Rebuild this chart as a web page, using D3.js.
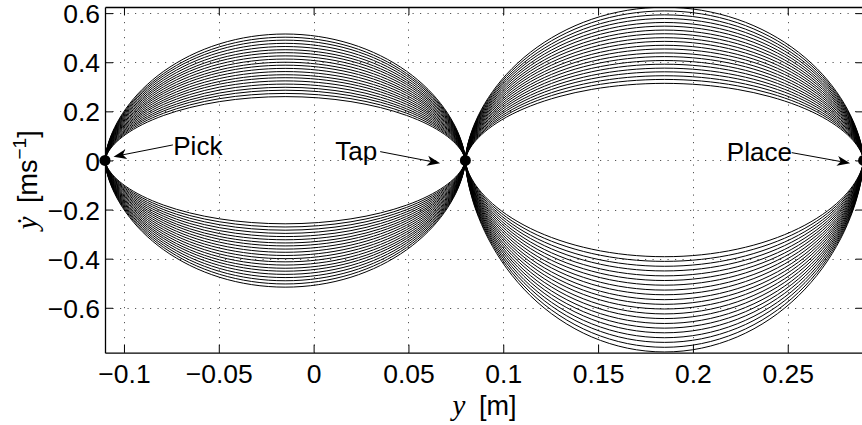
<!DOCTYPE html>
<html>
<head>
<meta charset="utf-8">
<script src="https://cdn.jsdelivr.net/npm/d3@7"></script>
<style>
html,body{margin:0;padding:0;background:#fff;}
svg{display:block;}
text{font-family:"Liberation Sans",Arial,Helvetica,sans-serif;}
</style>
</head>
<body>
<svg id="chart" width="862" height="425"></svg>
<script>
// ---- data ----
const xTicks = [-0.1, -0.05, 0, 0.05, 0.1, 0.15, 0.2, 0.25];
const xTickLabels = ["\u22120.1", "\u22120.05", "0", "0.05", "0.1", "0.15", "0.2", "0.25"];
const yTicks = [-0.6, -0.4, -0.2, 0, 0.2, 0.4, 0.6];
const yTickLabels = ["\u22120.6", "\u22120.4", "\u22120.2", "0", "0.2", "0.4", "0.6"];

// waypoints (position y [m])
const pickPos = -0.11, tapPos = 0.08, placePos = 0.29;
const waypointNames = ["Pick", "Tap", "Place"];
const waypointPos = [pickPos, tapPos, placePos];

// normalized stroke profile (fraction of travel, fraction of peak speed)
const profileP = [0, 0.0012, 0.0086, 0.0266, 0.0579, 0.1035, 0.1631, 0.2352, 0.3174, 0.4069, 0.5,
                  0.5931, 0.6826, 0.7648, 0.8369, 0.8965, 0.9421, 0.9734, 0.9914, 0.9988, 1];
const profileV = [0, 0.0361, 0.1296, 0.2601, 0.4096, 0.5625, 0.7056, 0.8281, 0.9216, 0.9801, 1,
                  0.9801, 0.9216, 0.8281, 0.7056, 0.5625, 0.4096, 0.2601, 0.1296, 0.0361, 0];

// peak speeds of each trajectory [m/s]
const pickToTapPeaks = [0.260,0.273,0.286,0.298,0.311,0.324,0.337,0.349,0.362,0.375,0.388,
                        0.400,0.413,0.426,0.439,0.451,0.464,0.477,0.490,0.502,0.515];
const tapToPickPeaks = [-0.258,-0.271,-0.284,-0.297,-0.310,-0.323,-0.336,-0.348,-0.361,-0.374,-0.387,
                        -0.400,-0.413,-0.426,-0.439,-0.451,-0.464,-0.477,-0.490,-0.503,-0.516];
const tapToPlacePeaks = [0.314,0.330,0.345,0.361,0.376,0.392,0.407,0.423,0.438,0.454,0.469,
                         0.485,0.500,0.516,0.531,0.547,0.562,0.578,0.593,0.609,0.624];
const placeToTapPeaks = [-0.392,-0.411,-0.431,-0.450,-0.470,-0.489,-0.508,-0.528,-0.547,-0.567,-0.586,
                         -0.605,-0.625,-0.644,-0.664,-0.683,-0.702,-0.722,-0.741,-0.761,-0.780];

// annotation anchors in data units
const annotations = [
  {label: "Pick",  tx: -0.0740, ty: 0.0215, x0: -0.0742, y0: 0.0632, x1: -0.1055, y1: 0.0155},
  {label: "Tap",   tx: 0.0114,  ty: 0.0010, x0: 0.0351,  y0: 0.0359, x1: 0.0667,  y1: -0.0114},
  {label: "Place", tx: 0.2179,  ty: -0.0010, x0: 0.2521, y0: 0.0318, x1: 0.2829,  y1: -0.0114}
];

// ---- chart ----
const svg = d3.select("#chart");
const x = d3.scaleLinear().domain([-0.11, 0.29]).range([105, 863.6]);
const y = d3.scaleLinear().domain([-0.783, 0.625]).range([352.7, 7]);
const [xl, xr] = x.range();
const [yb, yt] = y.range();

svg.append("defs").append("clipPath").attr("id", "clip")
  .append("rect").attr("x", xl).attr("y", yt).attr("width", xr - xl).attr("height", yb - yt);

// grid
const grid = svg.append("g").attr("stroke", "#555").attr("stroke-width", 1)
  .attr("stroke-dasharray", "1.2,6.3");
grid.selectAll("line.gx").data(xTicks).join("line")
  .attr("x1", d => Math.round(x(d)) + 0.5).attr("x2", d => Math.round(x(d)) + 0.5)
  .attr("y1", yt).attr("y2", yb);
grid.selectAll("line.gy").data(yTicks).join("line")
  .attr("y1", d => Math.round(y(d)) + 0.5).attr("y2", d => Math.round(y(d)) + 0.5)
  .attr("x1", xl).attr("x2", xr);

// trajectories
const line = d3.line().x(d => x(d[0])).y(d => y(d[1])).curve(d3.curveCatmullRom.alpha(0.5));
function traj(from, to, peak) {
  return profileP.map((p, i) => [from + (to - from) * p, peak * profileV[i]]);
}
const families = [
  {from: pickPos, to: tapPos, peaks: pickToTapPeaks},
  {from: tapPos, to: pickPos, peaks: tapToPickPeaks},
  {from: tapPos, to: placePos, peaks: tapToPlacePeaks},
  {from: placePos, to: tapPos, peaks: placeToTapPeaks}
];
const curves = svg.append("g").attr("clip-path", "url(#clip)")
  .attr("fill", "none").attr("stroke", "#000").attr("stroke-width", 1);
families.forEach(f => {
  curves.selectAll(null).data(f.peaks).join("path")
    .attr("d", pk => line(traj(f.from, f.to, pk)));
});

// axes
const fmtX = d => xTickLabels[xTicks.indexOf(d)];
const fmtY = d => yTickLabels[yTicks.indexOf(d)];
const axStyle = g => {
  g.select(".domain").attr("stroke", "#000").attr("stroke-width", 1.3);
  g.selectAll(".tick line").attr("stroke", "#000").attr("stroke-width", 1);
  g.selectAll(".tick text").attr("font-size", 26.5).attr("fill", "#000")
    .attr("font-family", "'Liberation Sans', Arial, Helvetica, sans-serif");
};
svg.append("g").attr("transform", `translate(0,${yb})`)
  .call(d3.axisBottom(x).tickValues(xTicks).tickFormat(fmtX).tickSizeInner(-8).tickSizeOuter(0).tickPadding(11.5))
  .call(axStyle);
svg.append("g").attr("transform", `translate(0,${yt})`)
  .call(d3.axisTop(x).tickValues(xTicks).tickFormat("").tickSizeInner(-8).tickSizeOuter(0))
  .call(axStyle);
svg.append("g").attr("transform", `translate(${xl},0)`)
  .call(d3.axisLeft(y).tickValues(yTicks).tickFormat(fmtY).tickSizeInner(-8).tickSizeOuter(0).tickPadding(5))
  .call(axStyle)
  .selectAll(".tick text").attr("dy", "0.36em");
svg.append("g").attr("transform", `translate(${xr},0)`)
  .call(d3.axisRight(y).tickValues(yTicks).tickFormat("").tickSizeInner(-8).tickSizeOuter(0))
  .call(axStyle);

// waypoint dots
svg.append("g").selectAll("circle").data(waypointPos).join("circle")
  .attr("cx", d => x(d)).attr("cy", y(0)).attr("r", 5.5).attr("fill", "#000");

// annotations
const ann = svg.append("g");
annotations.forEach(a => {
  const X0 = x(a.x0), Y0 = y(a.y0), X1 = x(a.x1), Y1 = y(a.y1);
  const ang = Math.atan2(Y1 - Y0, X1 - X0);
  const L = 13, Wd = 5, notch = 9.5;
  const ca = Math.cos(ang), sa = Math.sin(ang);
  const bx = X1 - L * ca, by = Y1 - L * sa;
  const nx = X1 - notch * ca, ny = Y1 - notch * sa;
  ann.append("line").attr("x1", X0).attr("y1", Y0).attr("x2", nx).attr("y2", ny)
    .attr("stroke", "#000").attr("stroke-width", 1);
  ann.append("path")
    .attr("d", `M${X1},${Y1}L${bx - Wd * sa},${by + Wd * ca}L${nx},${ny}L${bx + Wd * sa},${by - Wd * ca}Z`)
    .attr("fill", "#000");
  ann.append("text").attr("x", x(a.tx)).attr("y", y(a.ty))
    .attr("font-size", 26).attr("fill", "#000").text(a.label);
});

// axis labels
const xlab = svg.append("text").attr("x", (xl + 862) / 2 + 1).attr("y", 415)
  .attr("text-anchor", "middle").attr("font-size", 27).attr("fill", "#000");
xlab.append("tspan").attr("font-family", "'Liberation Serif','DejaVu Serif',serif")
  .attr("font-style", "italic").attr("font-size", 29).text("y");
xlab.append("tspan").attr("dx", 6).text(" [m]");

const ylab = svg.append("text").attr("transform", `translate(37,${(yt + yb) / 2}) rotate(-90)`)
  .attr("text-anchor", "middle").attr("font-size", 27).attr("fill", "#000");
ylab.append("tspan").attr("font-family", "'Liberation Serif','DejaVu Serif',serif")
  .attr("font-style", "italic").attr("font-size", 29).text("\u1E8F");
ylab.append("tspan").attr("dx", 6).text(" [ms");
ylab.append("tspan").attr("font-size", 19).attr("dy", -11).text("\u22121");
ylab.append("tspan").attr("dy", 11).text("]");
</script>
</body>
</html>
